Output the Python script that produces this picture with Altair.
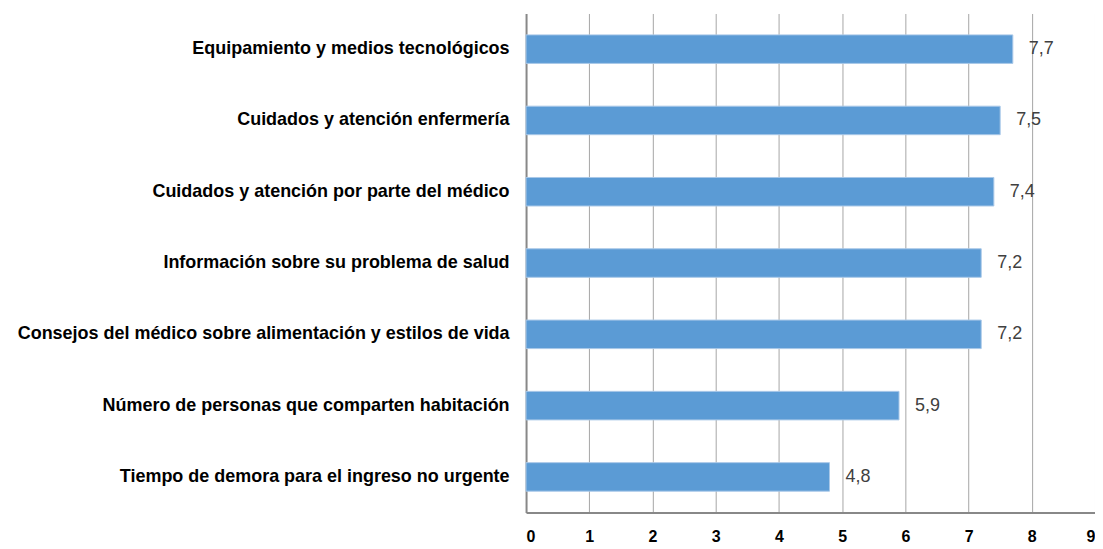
import altair as alt
import pandas as pd

categories = [
    "Equipamiento y medios tecnológicos",
    "Cuidados y atención enfermería",
    "Cuidados y atención por parte del médico",
    "Información sobre su problema de salud",
    "Consejos del médico sobre alimentación y estilos de vida",
    "Número de personas que comparten habitación",
    "Tiempo de demora para el ingreso no urgente",
]
values = [7.7, 7.5, 7.4, 7.2, 7.2, 5.9, 4.8]
x_ticks = [0, 1, 2, 3, 4, 5, 6, 7, 8, 9]

df = pd.DataFrame({"cat": categories, "val": values})

FONT = "Liberation Sans"

y_enc = alt.Y("cat:N", sort=categories, title=None,
              scale=alt.Scale(paddingInner=0.6, paddingOuter=0.3),
              axis=alt.Axis(labelFontSize=18, labelFontWeight="bold", labelColor="#000000",
                            labelFont=FONT, labelPadding=17, ticks=False, grid=False,
                            domainColor="#888888", domainWidth=2, labelLimit=600))
x_enc = alt.X("val:Q", title=None,
              scale=alt.Scale(domain=[0, 9], nice=False),
              axis=alt.Axis(values=x_ticks, labelFontSize=16, labelFontWeight="bold",
                            labelColor="#000000", labelFont=FONT, ticks=False,
                            labelPadding=16, grid=True, gridColor="#a6a6a6", gridWidth=1,
                            domainColor="#888888", domainWidth=2, format="d"))

bars = alt.Chart(df).mark_bar(color="#5b9bd5", stroke="#a9c8e8", strokeWidth=1).encode(
    x=x_enc, y=y_enc
)

labels = alt.Chart(df).transform_calculate(
    lab="replace(format(datum.val, '.1f'), '.', ',')"
).mark_text(align="left", baseline="middle", dx=16, fontSize=18, font=FONT,
            color="#404040").encode(
    x=alt.X("val:Q"), y=alt.Y("cat:N", sort=categories), text="lab:N"
)

chart = (bars + labels).properties(
    width=570, height=500,
    autosize=alt.AutoSizeParams(type="none"),
    padding={"left": 519, "top": 5, "right": 0, "bottom": 35},
).configure_view(stroke=None)

chart.save("out.html", embed_options={"renderer": "svg", "actions": False})
